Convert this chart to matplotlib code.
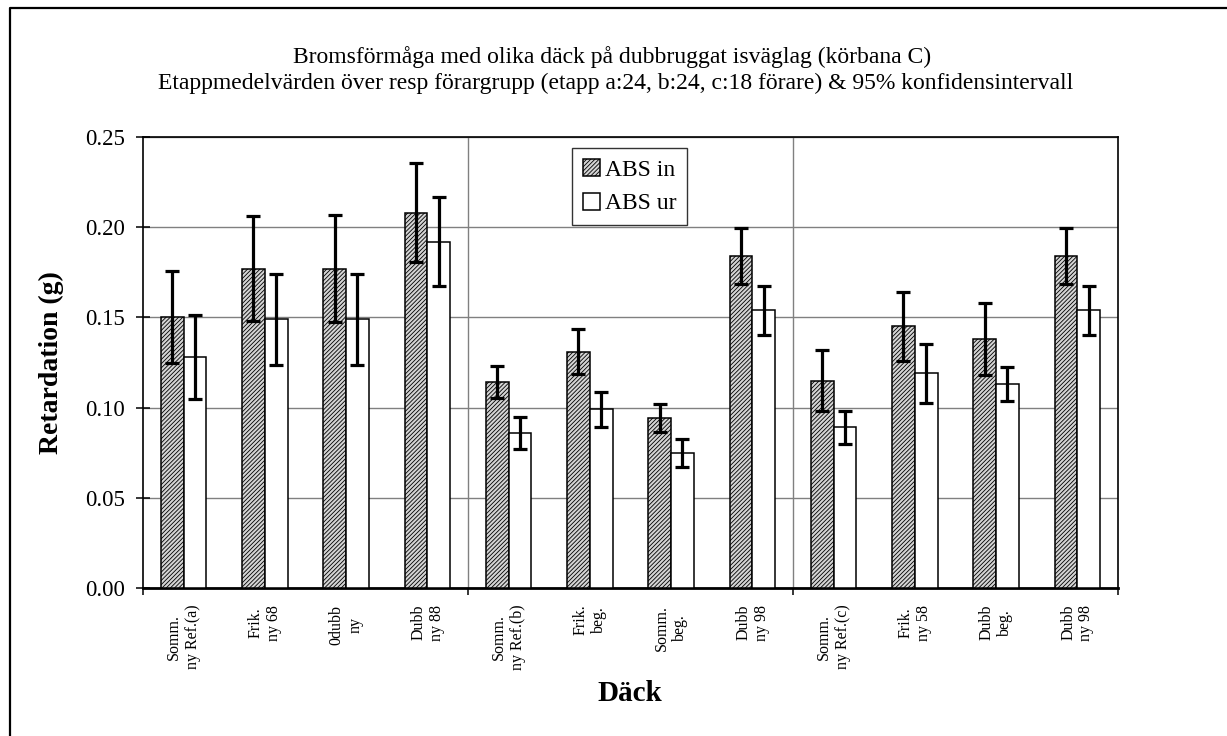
import numpy as np
import matplotlib
matplotlib.use("Agg")
import matplotlib.pyplot as plt
from matplotlib.lines import Line2D

plt.rcParams['font.family'] = ['Liberation Serif', 'DejaVu Serif']
plt.rcParams['hatch.linewidth'] = 0.6
plt.rcParams['hatch.color'] = '#404040'

# data
categories = ["Somm.\nny Ref.(a)", "Frik.\nny 68", "0dubb\nny", "Dubb\nny 88",
              "Somm.\nny Ref.(b)", "Frik.\nbeg.", "Somm.\nbeg.", "Dubb\nny 98",
              "Somm.\nny Ref.(c)", "Frik.\nny 58", "Dubb\nbeg.", "Dubb\nny 98"]
abs_in = [0.150, 0.177, 0.177, 0.208, 0.114, 0.131, 0.094, 0.184, 0.115, 0.145, 0.138, 0.184]
abs_in_ci = [0.0255, 0.029, 0.0295, 0.0275, 0.0088, 0.0126, 0.0078, 0.0153, 0.0171, 0.019, 0.020, 0.0153]
abs_ur = [0.128, 0.149, 0.149, 0.192, 0.086, 0.099, 0.075, 0.154, 0.089, 0.119, 0.113, 0.154]
abs_ur_ci = [0.0233, 0.0253, 0.0253, 0.0247, 0.0087, 0.0097, 0.0078, 0.0135, 0.009, 0.0164, 0.0093, 0.0135]
group_edges = [0, 4, 8, 12]

fig = plt.figure(figsize=(12.27, 7.36), dpi=100)
ax = fig.add_axes([0.1165, 0.2011, 0.7946, 0.6128])

x = np.arange(len(categories))
w = 0.28
err_kw = dict(ecolor='black', elinewidth=2.3, capsize=4.7, capthick=2.3)
ax.bar(x - w/2, abs_in, w, yerr=abs_in_ci, facecolor='#d4d4d4', hatch='////////',
       edgecolor='black', linewidth=1.1, label='ABS in', error_kw=err_kw, zorder=3)
ax.bar(x + w/2, abs_ur, w, yerr=abs_ur_ci, facecolor='white',
       edgecolor='black', linewidth=1.1, label='ABS ur', error_kw=err_kw, zorder=3)

ax.set_xlim(-0.5, len(categories) - 0.5)
ax.set_ylim(0, 0.25)
yt = np.arange(0, 0.251, 0.05)
ax.set_yticks(yt)
ax.set_yticklabels([f"{v:.2f}" for v in yt], fontsize=16.5)
ax.yaxis.grid(True, color='#808080', linewidth=1)
for g in group_edges[1:-1]:
    ax.axvline(g - 0.5, color='#808080', linewidth=1, zorder=1)
ax.set_axisbelow(True)

ax.set_xticks(x)
ax.set_xticklabels(categories, rotation=90, fontsize=11.5, ha='center', va='top',
                   multialignment='center')
ax.set_xticks([g - 0.5 for g in group_edges], minor=True)
ax.tick_params(axis='x', which='major', length=0, pad=12)
ax.tick_params(axis='x', which='minor', direction='out', length=5, width=1.1)
ax.tick_params(axis='y', direction='inout', length=10, width=1.1, pad=8)
ax.spines['left'].set_linewidth(1.2)
ax.spines['top'].set_linewidth(1.2)
ax.spines['right'].set_linewidth(1.2)
ax.spines['bottom'].set_linewidth(2)

leg = ax.legend(loc='upper left', bbox_to_anchor=(0.44, 0.975), fontsize=17,
                frameon=True, fancybox=False, edgecolor='black', handlelength=0.75,
                handleheight=0.75, handletextpad=0.2, borderpad=0.45, labelspacing=0.5,
                borderaxespad=0)
leg.get_frame().set_linewidth(1)

fig.text(0.499, 0.9226, "Bromsförmåga med olika däck på dubbruggat isväglag (körbana C)",
         ha='center', va='center', fontsize=17)
fig.text(0.502, 0.8872, "Etappmedelvärden över resp förargrupp (etapp a:24, b:24, c:18 förare) & 95% konfidensintervall",
         ha='center', va='center', fontsize=17)
fig.text(0.0416, 0.507, "Retardation (g)", rotation=90, ha='center', va='center',
         fontsize=20, fontweight='bold')
fig.text(0.513, 0.0584, "Däck", ha='center', va='center', fontsize=21, fontweight='bold')

# outer chart frame (only left and top edges are inside the picture)
fig.lines.append(Line2D([0.0082, 0.0082, 1.0], [0.0, 0.9891, 0.9891],
                        transform=fig.transFigure, color='black', linewidth=1.6))

fig.savefig("out.png", dpi=100)
